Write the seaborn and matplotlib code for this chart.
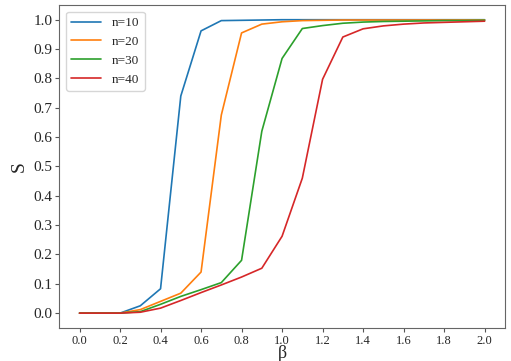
import numpy as np
import pandas as pd
import seaborn as sns
import matplotlib
matplotlib.use('Agg')
import matplotlib.pyplot as plt

# beta 取值
beta = [0.0, 0.1, 0.2, 0.3, 0.4, 0.5, 0.6, 0.7, 0.8, 0.9, 1.0,
        1.1, 1.2, 1.3, 1.4, 1.5, 1.6, 1.7, 1.8, 1.9, 2.0]

s_n10 = [0.0, 0.0, 0.0, 0.025, 0.083, 0.74, 0.962, 0.997, 0.998, 0.999, 1.0,
         1.0, 1.0, 1.0, 1.0, 1.0, 1.0, 1.0, 1.0, 1.0, 1.0]
s_n20 = [0.0, 0.0, 0.0, 0.012, 0.04, 0.068, 0.14, 0.675, 0.955, 0.985, 0.993,
         0.997, 0.998, 0.999, 0.999, 0.999, 0.999, 0.999, 0.999, 0.999, 0.999]
s_n30 = [0.0, 0.0, 0.0, 0.005, 0.03, 0.057, 0.08, 0.104, 0.18, 0.62, 0.868,
         0.97, 0.98, 0.988, 0.992, 0.994, 0.995, 0.996, 0.997, 0.997, 0.998]
s_n40 = [0.0, 0.0, 0.0, 0.003, 0.017, 0.043, 0.07, 0.096, 0.123, 0.153, 0.262,
         0.46, 0.797, 0.941, 0.969, 0.979, 0.985, 0.989, 0.991, 0.993, 0.995]

labels = ['n=10', 'n=20', 'n=30', 'n=40']
series = [s_n10, s_n20, s_n30, s_n40]

df = pd.concat([pd.DataFrame({'beta': beta, 'S': s, 'n': lab})
                for lab, s in zip(labels, series)], ignore_index=True)

sns.set_style('white')
plt.rcParams['font.family'] = ['Liberation Serif', 'DejaVu Serif']

fig, ax = plt.subplots(figsize=(5.11, 3.61), dpi=100)
sns.lineplot(data=df, x='beta', y='S', hue='n', palette='tab10', linewidth=1.2, ax=ax)

ax.set_xticks(np.arange(0, 2.01, 0.2))
ax.set_yticks(np.arange(0, 1.01, 0.1))
ax.set_xticklabels([f'{v:.1f}' for v in np.arange(0, 2.01, 0.2)], fontsize=9)
ax.set_yticklabels([f'{v:.1f}' for v in np.arange(0, 1.01, 0.1)], fontsize=11)
ax.tick_params(axis='both', direction='out', length=3, pad=2, color='#555555', left=True, bottom=True)
ax.set_xlim(-0.1, 2.1)
ax.set_ylim(-0.05, 1.05)
ax.set_xlabel('β', fontsize=13, labelpad=-1)
ax.set_ylabel('S', fontsize=14)
for sp in ax.spines.values():
    sp.set_color('#666666')
ax.legend(title=None, loc='upper left', fontsize=9.5, handlelength=2.3)

plt.subplots_adjust(left=0.116, right=0.988, top=0.986, bottom=0.092)
plt.savefig('out.png', dpi=100)
